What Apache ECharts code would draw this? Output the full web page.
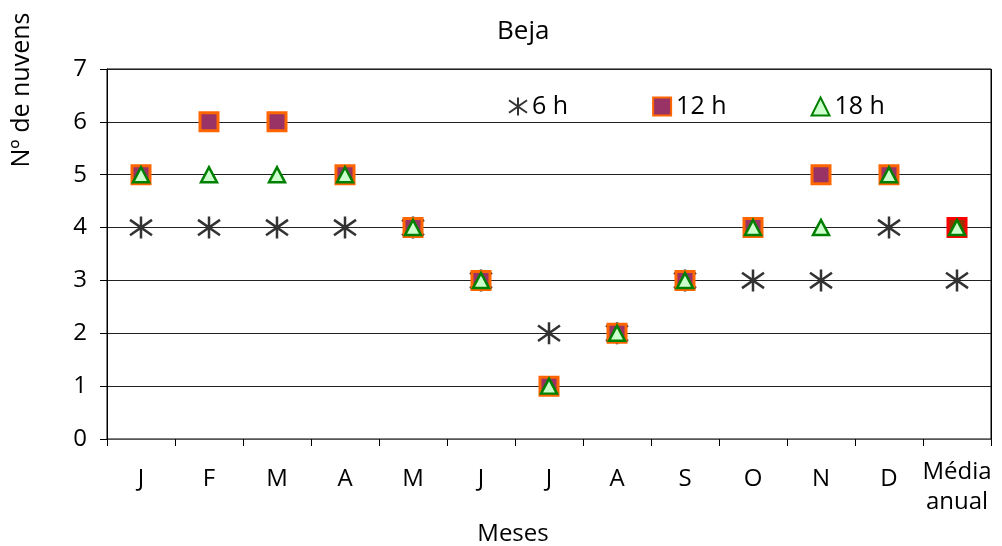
<!DOCTYPE html>
<html>
<head>
<meta charset="utf-8">
<script src="https://cdn.jsdelivr.net/npm/echarts@6/dist/echarts.min.js"></script>
<style>
  html, body { margin: 0; padding: 0; background: #fff; }
  #chart { width: 1002px; height: 546px; }
</style>
</head>
<body>
<div id="chart"></div>
<script>
// Cloud counts at Beja, by month and hour of observation
const categories = ['J', 'F', 'M', 'A', 'M', 'J', 'J', 'A', 'S', 'O', 'N', 'D', 'Média\nanual'];
const h6  = [4, 4, 4, 4, 4, 3, 2, 2, 3, 3, 3, 4, 3];
const h12 = [5, 6, 6, 5, 4, 3, 1, 2, 3, 4, 5, 5, 4];
const h18 = [5, 5, 5, 5, 4, 3, 1, 2, 3, 4, 4, 5, 4];
const yTicks = [0, 1, 2, 3, 4, 5, 6, 7];

const FONT = '"Open Sans", "DejaVu Sans", sans-serif';
const ASTERISK = 'path://M10,0L10,20M0,3L20,17M0,17L20,3';

const lastIdx = categories.length - 1;
// the annual mean for 12 h is drawn in its own colours
const h12Data = h12.map((v, i) => i === lastIdx
  ? { value: v, itemStyle: { color: '#993300', borderColor: '#ff0000' } }
  : v);

const chart = echarts.init(document.getElementById('chart'));
chart.setOption({
  animation: false,
  textStyle: { fontFamily: FONT },
  title: {
    text: 'Beja',
    left: 492,
    top: 14,
    textStyle: { fontFamily: FONT, fontSize: 26, fontWeight: 'normal', color: '#000' }
  },
  legend: {
    left: 503,
    top: 89,
    itemWidth: 18,
    itemHeight: 18,
    itemGap: 84,
    textStyle: { fontFamily: FONT, fontSize: 25, color: '#000' },
    data: ['6 h', '12 h', '18 h']
  },
  grid: {
    left: 107, right: 11, top: 69, bottom: 107,
    outerBoundsMode: 'none',
    containLabel: false,
    show: true, borderColor: '#000', borderWidth: 1
  },
  xAxis: {
    type: 'category',
    data: categories,
    boundaryGap: true,
    name: 'Meses',
    nameLocation: 'middle',
    nameGap: 83,
    nameTextStyle: { fontFamily: FONT, fontSize: 24, color: '#000', padding: [0, 72, 0, 0] },
    axisLine: { lineStyle: { color: '#555', width: 1 } },
    axisTick: { show: true, length: 7, lineStyle: { color: '#000' } },
    axisLabel: {
      interval: 0, margin: 18, fontFamily: FONT, fontSize: 24, color: '#000',
      formatter: (v) => v.includes('\n')
        ? v.split('\n').map((s) => '{m|' + s + '}').join('\n')
        : '{s|' + v + '}',
      rich: {
        s: { fontFamily: FONT, fontSize: 24, color: '#000', lineHeight: 44 },
        m: { fontFamily: FONT, fontSize: 24, color: '#000', lineHeight: 30 }
      }
    },
    splitLine: {
      show: true,
      interval: (i) => i === lastIdx,
      lineStyle: { color: '#000', width: 1 }
    }
  },
  yAxis: {
    type: 'value',
    min: 0, max: 7, interval: 1,
    axisLine: { show: true, lineStyle: { color: '#000' } },
    axisTick: { show: true, length: 7, lineStyle: { color: '#000' } },
    axisLabel: {
      margin: 20, fontFamily: FONT, fontSize: 24, color: '#000',
      formatter: (v) => yTicks.includes(v) ? String(v) : ''
    },
    splitLine: { show: true, lineStyle: { color: '#222', width: 1 } }
  },
  graphic: [{
    type: 'text',
    x: 22, y: 90,
    rotation: Math.PI / 2,
    style: {
      text: 'Nº de nuvens',
      fontFamily: FONT, fontSize: 25, fill: '#000',
      align: 'center', verticalAlign: 'middle'
    }
  }],
  series: [
    {
      name: '6 h', type: 'scatter', data: h6,
      symbol: ASTERISK, symbolSize: 22,
      itemStyle: { color: 'rgba(0,0,0,0)', borderColor: '#333', borderWidth: 2.5, opacity: 1 },
      z: 2
    },
    {
      name: '12 h', type: 'scatter', data: h12Data,
      symbol: 'rect', symbolSize: 18,
      itemStyle: { color: '#993366', borderColor: '#ff6600', borderWidth: 3, opacity: 1 },
      z: 3
    },
    {
      name: '18 h', type: 'scatter', data: h18,
      symbol: 'triangle', symbolSize: [16, 15],
      itemStyle: { color: '#ccffcc', borderColor: '#008000', borderWidth: 2.5, opacity: 1 },
      z: 4
    }
  ]
});
</script>
</body>
</html>
